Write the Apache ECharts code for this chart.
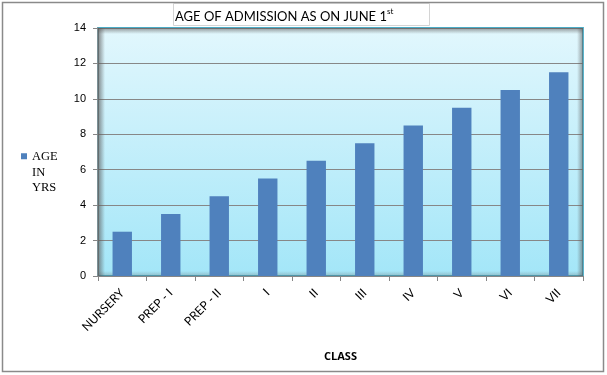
<!DOCTYPE html>
<html><head><meta charset="utf-8">
<script src="https://cdn.jsdelivr.net/npm/echarts@6/dist/echarts.min.js"></script>
<style>html,body{margin:0;padding:0;background:#fff}#c{width:607px;height:375px}</style>
</head><body><div id="c"></div>
<script>
const categories = ['NURSERY','PREP - I','PREP - II','I','II','III','IV','V','VI','VII'];
const ageValues = [2.5,3.5,4.5,5.5,6.5,7.5,8.5,9.5,10.5,11.5];
const seriesName = 'AGE\nIN\nYRS';
const yTicks = {min:0, max:14, interval:2};

const G = {left:98, top:28, right:24, bottom:99};
const W = 607 - G.left - G.right, H = 375 - G.top - G.bottom;
const chart = echarts.init(document.getElementById('c'), null, {renderer:'canvas'});
const sh = (a) => 'rgba(90,90,90,' + a + ')';
chart.setOption({
  animation:false,
  backgroundColor:'#ffffff',
  title:{
    text:'{t|AGE OF ADMISSION AS ON JUNE 1}{s|st}',
    left:173, top:3,
    borderColor:'#d4d4d4', borderWidth:1,
    padding:[4,36,3,2],
    textStyle:{fontWeight:'normal', rich:{
      t:{fontFamily:'Lato', fontSize:13, fontWeight:'normal', color:'#000', verticalAlign:'bottom', lineHeight:16},
      s:{fontFamily:'Lato', fontSize:8, fontWeight:'normal', color:'#000', verticalAlign:'top', lineHeight:16}
    }}
  },
  legend:{
    left:16, top:144, orient:'vertical',
    icon:'path://M0,0H6V6H0Z M0,38L6,38', itemWidth:6, itemHeight:38, itemGap:4,
    textStyle:{fontFamily:'Liberation Serif', fontSize:12.5, color:'#000', lineHeight:15.5},
    data:[seriesName]
  },
  grid:{left:G.left, top:G.top, right:G.right, bottom:G.bottom, show:true,
    borderColor:'#4bacc6', borderWidth:1.8,
    backgroundColor:{type:'linear',x:0,y:0,x2:0,y2:1,colorStops:[{offset:0,color:'#e2f7fd'},{offset:1,color:'#a3e6f8'}]}
  },
  xAxis:{
    type:'category', data:categories,
    name:'CLASS', nameLocation:'middle', nameGap:75,
    nameTextStyle:{fontFamily:'Open Sans', fontSize:11, fontWeight:'bold', color:'#000'},
    axisLine:{lineStyle:{color:'#868686', width:1}},
    axisTick:{show:true, length:5, alignWithLabel:false, lineStyle:{color:'#868686'}},
    axisLabel:{rotate:45, margin:15, fontFamily:'Lato', fontSize:12, color:'#000', interval:0}
  },
  yAxis:{
    type:'value', min:yTicks.min, max:yTicks.max, interval:yTicks.interval,
    axisLine:{show:true, lineStyle:{color:'#868686', width:1.5}},
    axisTick:{show:true, length:5, lineStyle:{color:'#868686'}},
    axisLabel:{margin:12, fontFamily:'Liberation Sans', fontSize:11, color:'#000'},
    splitLine:{lineStyle:{color:'#878787', width:1.2}}
  },
  series:[{
    name:seriesName, type:'bar', data:ageValues, barWidth:'40%',
    itemStyle:{color:'#4f81bd'}, z:3
  }],
  graphic:[
    {type:'rect', shape:{x:2.5,y:2.5,width:601,height:369}, style:{fill:'none', stroke:'#8a8a8a', lineWidth:1.5}, z:100},
    {type:'rect', silent:true, shape:{x:G.left,y:G.top,width:7,height:H}, z:1,
      style:{fill:{type:'linear',x:0,y:0,x2:1,y2:0,colorStops:[{offset:0,color:sh(0.7)},{offset:1,color:sh(0)}]}}},
    {type:'rect', silent:true, shape:{x:G.left,y:G.top,width:W,height:6}, z:1,
      style:{fill:{type:'linear',x:0,y:0,x2:0,y2:1,colorStops:[{offset:0,color:sh(0.6)},{offset:1,color:sh(0)}]}}},
    {type:'rect', silent:true, shape:{x:G.left+W-6,y:G.top,width:6,height:H}, z:1,
      style:{fill:{type:'linear',x:0,y:0,x2:1,y2:0,colorStops:[{offset:0,color:sh(0)},{offset:1,color:sh(0.6)}]}}},
    {type:'rect', silent:true, shape:{x:G.left,y:G.top+H-5,width:W,height:5}, z:1,
      style:{fill:{type:'linear',x:0,y:0,x2:0,y2:1,colorStops:[{offset:0,color:sh(0)},{offset:1,color:sh(0.3)}]}}}
  ]
});
</script></body></html>
